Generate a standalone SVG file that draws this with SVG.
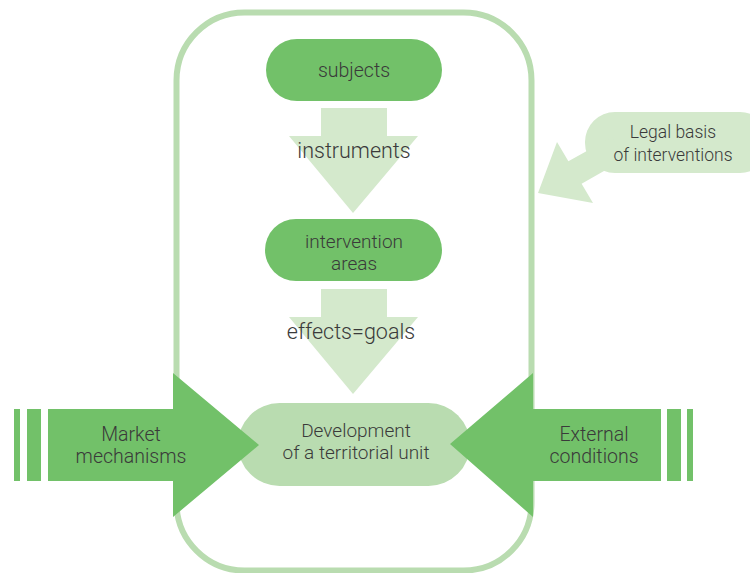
<svg xmlns="http://www.w3.org/2000/svg" width="750" height="573" viewBox="0 0 750 573">
<style>
.dark{fill:#72c169}
.light{fill:#d4e9cc}
.mid{fill:#b9dcb0}
.t{font-family:Roboto,"Liberation Sans",sans-serif;font-weight:300;fill:#3a3a3a;text-anchor:middle}
</style>
<rect width="750" height="573" fill="#ffffff"/>
<g id="frame">
<rect x="176.5" y="12.5" width="355" height="558" rx="68" fill="none" stroke="#b9dcb0" stroke-width="6"/>
</g>
<g id="connectors">
<polygon class="light" points="321,108 387,108 387,136 418,136 353,213 289,136 321,136"/>
<polygon class="light" points="321,289 387,289 387,317 418,317 353,394 289,317 321,317"/>
</g>
<g id="subjects">
<rect class="dark" x="266" y="39" width="176" height="62" rx="31"/>
<text class="t" x="354" y="77" font-size="19.5">subjects</text>
</g>
<g id="instruments">
<text class="t" x="354" y="158" font-size="21.5">instruments</text>
</g>
<g id="intervention-areas">
<rect class="dark" x="265" y="219" width="177" height="62" rx="31"/>
<text class="t" x="354" y="248" font-size="19">intervention</text>
<text class="t" x="354" y="270" font-size="19">areas</text>
</g>
<g id="effects-goals">
<text class="t" x="351" y="339" font-size="21.5">effects=goals</text>
</g>
<g id="development">
<rect class="mid" x="238" y="403" width="232" height="83" rx="41.5"/>
<text class="t" x="356" y="437" font-size="19">Development</text>
<text class="t" x="356" y="459" font-size="19">of a territorial unit</text>
</g>
<g id="market-mechanisms">
<rect class="dark" x="14" y="409" width="6" height="72"/>
<rect class="dark" x="27" y="409" width="14" height="72"/>
<polygon class="dark" points="48,409 173,409 173,373 259,445 173,517 173,481 48,481"/>
<text class="t" x="131" y="441" font-size="19.5">Market</text>
<text class="t" x="131" y="463" font-size="19.5">mechanisms</text>
</g>
<g id="external-conditions">
<rect class="dark" x="667" y="409" width="14" height="72"/>
<rect class="dark" x="687" y="409" width="6" height="72"/>
<polygon class="dark" points="661,409 533,409 533,373 450,444 533,517 533,481 661,481"/>
<text class="t" x="594" y="441" font-size="19.5">External</text>
<text class="t" x="594" y="463" font-size="19.5">conditions</text>
</g>
<g id="legal-basis">
<rect class="light" x="585" y="112" width="185" height="61" rx="30"/>
<polygon class="light" points="612,137 625,159 581.6,183.7 593,203 538,193 557,142 568.4,161.3"/>
<text class="t" x="673" y="138" font-size="17.5">Legal basis</text>
<text class="t" x="673" y="161" font-size="17.5">of interventions</text>
</g>
</svg>
